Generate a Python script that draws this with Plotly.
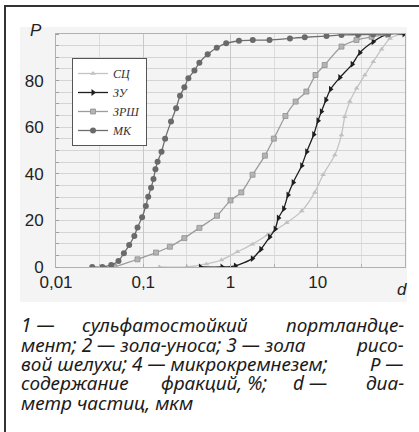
import plotly.graph_objects as go

# ---- data (d, мкм ; P, %) ----
sc_d = [0.153, 0.318, 0.53, 0.788, 1.20, 1.79, 2.66, 4.41, 6.55, 9.25, 11.5, 15.7, 18.7, 20.4, 23.3, 27.9, 34.7, 43.3, 54.0, 67.3, 90.0]
sc_p = [0, 0, 1.3, 3, 6.5, 9.8, 13.8, 19, 24, 32, 39.6, 48.1, 56.7, 64.5, 71, 76.7, 82.4, 88.1, 93.5, 98.1, 100]

zu_d = [0.452, 0.80, 1.14, 1.78, 2.23, 2.81, 3.25, 3.54, 4.07, 4.56, 5.23, 6.55, 7.48, 9.0, 10.07, 11.0, 12.4, 14.0, 17.9, 24.8, 30.4, 43.2, 63.2, 97.5]
zu_p = [0, 0, 0.5, 3.6, 7.6, 12.9, 16.3, 21, 25, 30.9, 36.3, 43.5, 49.5, 56.9, 62.8, 66.7, 71.7, 76.3, 81.3, 87, 92, 96.7, 99.9, 100]

zrsh_d = [0.0465, 0.0859, 0.140, 0.2018, 0.296, 0.44, 0.70, 1.0, 1.33, 1.79, 2.48, 3.14, 4.26, 5.58, 7.41, 9.42, 12.0, 18.7, 27.8, 41.4, 63.2]
zrsh_p = [0, 3.3, 6.2, 8.7, 12.4, 16.8, 22, 28.6, 32, 39.6, 47.8, 55.1, 64.8, 71, 75.3, 82.4, 86.7, 94.6, 97.4, 98.8, 99.8]

mk_d = [0.026, 0.034, 0.043, 0.052, 0.060, 0.069, 0.079, 0.086, 0.097, 0.107, 0.114, 0.123, 0.131, 0.138, 0.146, 0.162, 0.178,
        0.208, 0.238, 0.264, 0.296, 0.329, 0.386, 0.44, 0.548, 0.696, 0.893, 1.25, 1.8, 2.8, 4.8, 7.1, 12.6, 18.7, 29.0, 43.0, 64.0]
mk_p = [0, 0, 0.9, 2.6, 5.9, 9.4, 13.3, 17, 21.3, 26.2, 30.2, 34, 37.8, 41.9, 45.2, 49.5, 55,
        62.4, 68.1, 73.5, 77.1, 81, 84.3, 87.7, 91.3, 94.1, 96, 97.1, 97.4, 97.4, 98.1, 98.6, 99.1, 99.6, 99.7, 99.8, 100]

series_names = ["СЦ", "ЗУ", "ЗРШ", "МК"]

x_tickvals = [0.01, 0.1, 1, 10, 100]
x_ticktext = ["0,01", "0,1", "1", "10", ""]
x_minor = [0.0316, 0.316, 3.16, 31.6]
y_tickvals = [0, 20, 40, 60, 80]
y_ticktext = ["0", "20", "40", "60", "80"]

# caption split into chunks per line (first chunk left-aligned, last right-aligned)
caption_lines = [
    ["1 —", "сульфатостойкий", "портландце-"],
    ["мент; 2 — зола-уноса; 3 — зола", "рисо-"],
    ["вой шелухи; 4 — микрокремнезем;", "Р —"],
    ["содержание", "фракций, %;", "d —", "диа-"],
    ["метр частиц, мкм"],
]

# ---- layout geometry (pixels) ----
W, H = 419, 432
L, R, T, B = 56, 14, 34, 165
pw, ph = W - L - R, H - T - B

def px(x):
    return (x - L) / pw

def py(y):
    return (H - B - y) / ph

fig = go.Figure()

styles = [
    dict(line=dict(color="#c4c4c4", width=1.3), marker=dict(symbol="triangle-up", size=5, color="#c0c0c0")),
    dict(line=dict(color="#1e1e1e", width=1.3), marker=dict(symbol="triangle-right", size=6, color="#1e1e1e")),
    dict(line=dict(color="#9c9c9c", width=1.3), marker=dict(symbol="square", size=5, color="#b4b4b4",
                                                            line=dict(color="#909090", width=0.8))),
    dict(line=dict(color="#6e6e6e", width=1.3), marker=dict(symbol="circle", size=6, color="#6a6a6a")),
]
for name, xs, ys, st in zip(series_names, [sc_d, zu_d, zrsh_d, mk_d], [sc_p, zu_p, zrsh_p, mk_p], styles):
    fig.add_trace(go.Scatter(x=xs, y=ys, name=name, mode="lines+markers",
                             line=dict(shape="spline", smoothing=0.7, **st["line"]),
                             marker=st["marker"]))

# frame and faint panel
shapes = [
    dict(type="rect", xref="paper", yref="paper", x0=px(20), x1=px(407), y0=py(302), y1=py(27),
         fillcolor="#f4f4f4", line=dict(width=0), layer="below"),
    dict(type="line", xref="paper", yref="paper", x0=px(5), x1=px(5), y0=py(6), y1=py(432),
         line=dict(color="#333333", width=2)),
    dict(type="line", xref="paper", yref="paper", x0=px(4), x1=px(419), y0=py(6), y1=py(6),
         line=dict(color="#333333", width=2)),
]

annotations = [
    dict(text="<i>P</i>", xref="paper", yref="paper", x=px(36), y=py(31), showarrow=False,
         font=dict(family="Liberation Sans", size=17, color="#222"), xanchor="center", yanchor="middle"),
    dict(text="<i>d</i>", xref="paper", yref="paper", x=px(402), y=py(289), showarrow=False,
         font=dict(family="Liberation Sans", size=17, color="#222"), xanchor="center", yanchor="middle"),
]

cap_font = dict(family="Noto Sans", size=19, color="#1c1c1c", style="italic")
line_y = [325, 345, 364, 383, 403]
centers = [
    [None, 165, None],
    [None, None],
    [None, None],
    [None, 214, 310, None],
    [None],
]
for words, yy, cs in zip(caption_lines, line_y, centers):
    n = len(words)
    for i, (w, c) in enumerate(zip(words, cs)):
        if i == 0:
            xa, xx = "left", 20
        elif i == n - 1:
            xa, xx = "right", 405
        else:
            xa, xx = "center", c
        annotations.append(dict(text=w, xref="paper", yref="paper", x=px(xx), y=py(yy), showarrow=False,
                                xanchor=xa, yanchor="middle", font=cap_font, borderpad=0))

fig.update_layout(
    width=W, height=H,
    margin=dict(l=L, r=R, t=T, b=B, pad=0),
    paper_bgcolor="white", plot_bgcolor="white",
    shapes=shapes, annotations=annotations,
    showlegend=True,
    legend=dict(x=px(72), y=py(58), xanchor="left", yanchor="top",
                bgcolor="white", bordercolor="#555", borderwidth=1,
                font=dict(family="Liberation Serif", size=12, color="#333", style="italic"),
                itemwidth=30, tracegroupgap=0),
    font=dict(family="Liberation Sans", size=17, color="#222"),
)
fig.update_xaxes(type="log", range=[-2, 2], tickvals=x_tickvals, ticktext=x_ticktext,
                 showgrid=True, gridcolor="#c8c8c8", gridwidth=1,
                 showline=True, linecolor="#b0b0b0", linewidth=1, mirror=True,
                 ticks="inside", ticklen=3, tickcolor="#b0b0b0",
                 minor=dict(tickvals=x_minor, showgrid=True, gridcolor="#dcdcdc", ticks="inside", ticklen=3,
                            tickcolor="#b0b0b0"),
                 tickfont=dict(family="Liberation Sans", size=17, color="#222"),
                 zeroline=False)
fig.update_yaxes(range=[0, 100], tickvals=y_tickvals, ticktext=y_ticktext,
                 showgrid=True, gridcolor="#d4d4d4", gridwidth=1,
                 showline=True, linecolor="#b0b0b0", linewidth=1, mirror=True,
                 ticks="", ticklabelstandoff=8,
                 minor=dict(dtick=5, showgrid=True, gridcolor="#d4d4d4", ticks="inside", ticklen=3,
                            tickcolor="#a0a0a0"),
                 tickfont=dict(family="Liberation Sans", size=17, color="#222"),
                 zeroline=False)

fig.write_html("out.html", config={"displayModeBar": False},
               post_script="document.body.style.margin='0';document.body.style.padding='0';")
